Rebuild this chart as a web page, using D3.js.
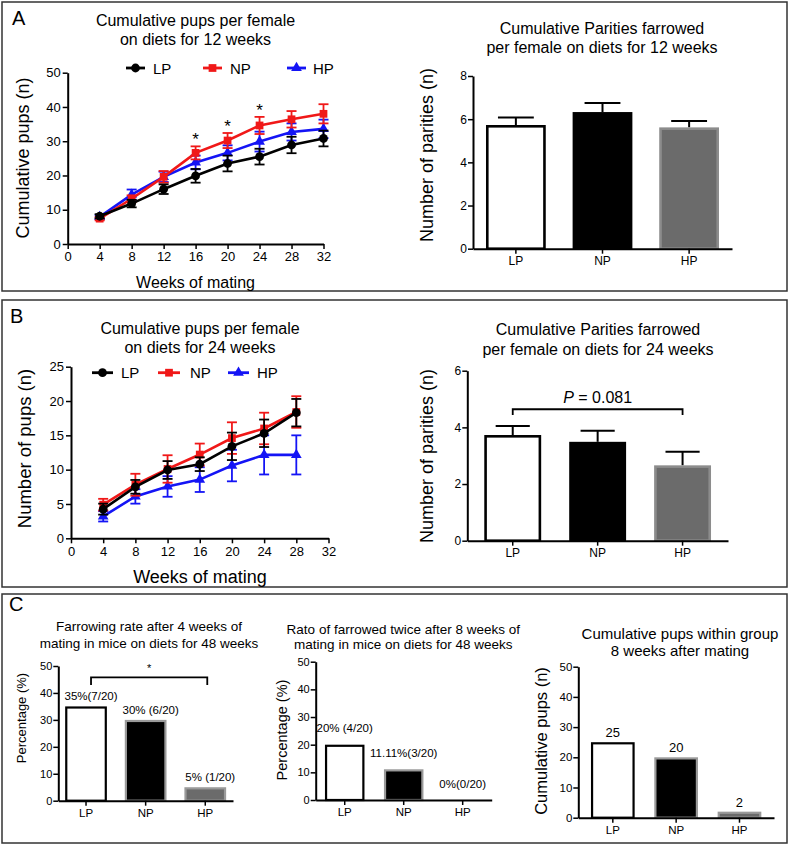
<!DOCTYPE html>
<html><head><meta charset="utf-8">
<script src="https://cdn.jsdelivr.net/npm/d3@7/dist/d3.min.js"></script>
<style>body{margin:0;background:#fff}</style>
</head><body>
<svg id="c" width="790" height="846"></svg>
<script>
// ---------- DATA ----------
const groups = ["LP", "NP", "HP"];
const weekTicks = [0, 4, 8, 12, 16, 20, 24, 28, 32];

// Panel A (12 weeks on diet)
const weeksA = [4, 8, 12, 16, 20, 24, 28, 32];
const lpA    = [8.1, 11.8, 16.0, 19.9, 23.5, 25.5, 28.9, 30.8];
const lpAErr = [0.6, 1.1, 1.4, 2.0, 2.3, 2.3, 2.4, 2.3];
const npA    = [7.4, 13.2, 19.6, 26.6, 30.2, 34.6, 36.4, 38.0];
const npAErr = [0.5, 1.0, 1.7, 1.9, 2.2, 2.5, 2.4, 2.8];
const hpA    = [7.9, 14.4, 19.6, 23.8, 26.6, 29.9, 32.7, 33.6];
const hpAErr = [0.5, 1.5, 1.5, 2.0, 2.2, 2.9, 2.5, 2.7];
const sigWeeksA = [16, 20, 24];
const paritiesA    = [5.73, 6.33, 5.62];
const paritiesAErr = [0.35, 0.42, 0.29];

// Panel B (24 weeks on diet)
const weeksB = [4, 8, 12, 16, 20, 24, 28];
const lpB    = [4.25, 7.5, 9.95, 10.8, 13.4, 15.3, 18.3];
const lpBErr = [0.8, 1.0, 1.3, 1.0, 2.0, 2.0, 2.0];
const npB    = [4.9, 7.8, 10.1, 12.2, 14.6, 16.0, 18.4];
const npBErr = [0.85, 1.6, 2.0, 1.6, 2.3, 2.3, 2.3];
const hpB    = [3.2, 6.1, 7.55, 8.55, 10.6, 12.15, 12.15];
const hpBErr = [0.75, 1.05, 1.5, 1.8, 2.3, 2.85, 2.85];
const paritiesB    = [3.73, 3.49, 2.66];
const paritiesBErr = [0.32, 0.39, 0.48];
const pValueB = "0.081";

// Panel C (48 weeks on diet)
const farrowRate   = [35, 30, 5];
const farrowLabels = ["35%(7/20)", "30% (6/20)", "5% (1/20)"];
const twiceRate    = [20, 11.11, 0];
const twiceLabels  = ["20% (4/20)", "11.11%(3/20)", "0%(0/20)"];
const cumPups      = [25, 20, 2];
const cumLabels    = ["25", "20", "2"];

// ---------- DRAWING ----------
const FONT = '"Liberation Sans", Arial, Helvetica, sans-serif';
const svg = d3.select("#c").attr("font-family", FONT);
const RED = "#f01818", BLUE = "#1414f5";
const barFill = ["#ffffff", "#000000", "#6b6b6b"];
const barStroke = ["#000000", "#000000", "#8c8c8c"];
const intFmt = d3.format("d");

// panel frames
[[2, 2, 785, 289], [2, 300, 785, 287], [2, 594, 785, 249]].forEach(r => {
  svg.append("rect").attr("x", r[0]).attr("y", r[1]).attr("width", r[2]).attr("height", r[3])
    .attr("fill", "none").attr("stroke", "#333").attr("stroke-width", 1.5);
});
[["A", 12, 25], ["B", 10, 323], ["C", 9, 611]].forEach(p => {
  svg.append("text").attr("x", p[1]).attr("y", p[2]).attr("font-size", 20).text(p[0]);
});

function styleAxis(g, fs) {
  g.attr("font-family", FONT);
  g.select(".domain").attr("stroke-width", 2).attr("stroke", "#000");
  g.selectAll(".tick line").attr("stroke-width", 1.5).attr("stroke", "#000");
  g.selectAll(".tick text").attr("font-size", fs).attr("fill", "#000");
}
function title(lines, cx, ys, fs) {
  lines.forEach((t, i) => svg.append("text").attr("x", cx).attr("y", ys[i])
    .attr("text-anchor", "middle").attr("dominant-baseline", "central").attr("font-size", fs).text(t));
}
function yLabel(t, cx, cy, fs) {
  svg.append("text").attr("transform", `translate(${cx},${cy}) rotate(-90)`)
    .attr("text-anchor", "middle").attr("dominant-baseline", "central").attr("font-size", fs).text(t);
}
function marker(g, type, x, y, color) {
  if (type === "circle") g.append("circle").attr("cx", x).attr("cy", y).attr("r", 4.4).attr("fill", color);
  else {
    const sym = type === "square" ? d3.symbolSquare : d3.symbolTriangle;
    const size = type === "square" ? 60 : 50;
    g.append("path").attr("d", d3.symbol(sym, size)()).attr("transform", `translate(${x},${y})`).attr("fill", color);
  }
}

function lineChart(c) {
  const x = d3.scaleLinear().domain([0, 32]).range([c.x0, c.x1]);
  const y = d3.scaleLinear().domain([0, c.yMax]).range([c.y0, c.y1]);
  const gx = svg.append("g").attr("transform", `translate(0,${c.y0})`)
    .call(d3.axisBottom(x).tickValues(weekTicks).tickFormat(intFmt).tickSize(5).tickPadding(3).tickSizeOuter(0));
  styleAxis(gx, 13);
  const gy = svg.append("g").attr("transform", `translate(${c.x0},0)`)
    .call(d3.axisLeft(y).tickValues(c.yTicks).tickFormat(intFmt).tickSize(5).tickPadding(2).tickSizeOuter(0));
  styleAxis(gy, 13);
  const line = d3.line().x(d => x(d[0])).y(d => y(d[1]));
  c.series.forEach(s => {
    const g = svg.append("g");
    const pts = c.weeks.map((w, i) => [w, s.vals[i], s.errs[i]]);
    pts.forEach(p => {
      const xx = x(p[0]);
      g.append("line").attr("x1", xx).attr("x2", xx).attr("y1", y(p[1] - p[2])).attr("y2", y(p[1] + p[2]))
        .attr("stroke", s.color).attr("stroke-width", 1.8);
      [p[1] - p[2], p[1] + p[2]].forEach(v => g.append("line").attr("x1", xx - 5).attr("x2", xx + 5)
        .attr("y1", y(v)).attr("y2", y(v)).attr("stroke", s.color).attr("stroke-width", 1.8));
    });
    g.append("path").datum(pts).attr("d", line).attr("fill", "none").attr("stroke", s.color).attr("stroke-width", 2.6);
    pts.forEach(p => marker(g, s.symbol, x(p[0]), y(p[1]), s.color));
  });
  // legend
  c.series.slice().reverse().forEach((s, i) => {
    const L = c.legend[i];
    svg.append("line").attr("x1", L[0]).attr("x2", L[1]).attr("y1", c.legendY).attr("y2", c.legendY)
      .attr("stroke", s.color).attr("stroke-width", 2.8);
    marker(svg, s.symbol, (L[0] + L[1]) / 2, c.legendY, s.color);
    svg.append("text").attr("x", L[2]).attr("y", c.legendY).attr("dominant-baseline", "central")
      .attr("font-size", 15).text(s.name);
  });
  return { x, y };
}

function barChart(c) {
  const x = d3.scaleBand().domain(groups).range([c.x0, c.x1]).paddingInner(c.pi).paddingOuter(c.po);
  const y = d3.scaleLinear().domain([0, c.yMax]).range([c.y0, c.y1]);
  const bw = x.bandwidth();
  groups.forEach((gname, i) => {
    const v = c.vals[i];
    if (c.errs) {
      const cx = x(gname) + bw / 2;
      svg.append("line").attr("x1", cx).attr("x2", cx).attr("y1", y(v)).attr("y2", y(v + c.errs[i]))
        .attr("stroke", "#000").attr("stroke-width", 2);
      svg.append("line").attr("x1", cx - bw * 0.3).attr("x2", cx + bw * 0.3)
        .attr("y1", y(v + c.errs[i])).attr("y2", y(v + c.errs[i])).attr("stroke", "#000").attr("stroke-width", 2);
    }
    if (v > 0) {
      const sw = c.sw || 2.4;
      svg.append("rect").attr("x", x(gname) + sw / 2).attr("y", y(v) + sw / 2)
        .attr("width", bw - sw).attr("height", Math.max(0, y(0) - y(v) - sw / 2))
        .attr("fill", barFill[i]).attr("stroke", (c.strokes || barStroke)[i]).attr("stroke-width", sw);
    }
  });
  const gx = svg.append("g").attr("transform", `translate(0,${c.y0})`)
    .call(d3.axisBottom(x).tickSize(5).tickPadding(3).tickSizeOuter(0));
  styleAxis(gx, c.xfs || 12);
  const gy = svg.append("g").attr("transform", `translate(${c.x0},0)`)
    .call(d3.axisLeft(y).tickValues(c.yTicks).tickFormat(intFmt).tickSize(5).tickPadding(1).tickSizeOuter(0));
  styleAxis(gy, c.yfs || 12);
  if (c.labels) {
    groups.forEach((gname, i) => {
      svg.append("text").attr("x", x(gname) + bw / 2 + (c.lblDx || 0)).attr("y", y(c.vals[i]) - c.lblOff)
        .attr("text-anchor", "middle").attr("dominant-baseline", "central").attr("font-size", c.lfs).text(c.labels[i]);
    });
  }
  return { x, y, bw };
}

// ----- Panel A left -----
const seriesA = [
  { name: "HP", vals: hpA, errs: hpAErr, color: BLUE, symbol: "triangle" },
  { name: "NP", vals: npA, errs: npAErr, color: RED, symbol: "square" },
  { name: "LP", vals: lpA, errs: lpAErr, color: "#000", symbol: "circle" }
];
const aL = lineChart({ x0: 67.7, x1: 323.5, y0: 244, y1: 72.7, yMax: 50, yTicks: [0, 10, 20, 30, 40, 50],
  weeks: weeksA, series: seriesA, legendY: 68,
  legend: [[126, 145, 153], [203, 222, 230], [287, 306, 313]] });
sigWeeksA.forEach(w => {
  const i = weeksA.indexOf(w);
  svg.append("text").attr("x", aL.x(w)).attr("y", aL.y(npA[i] + npAErr[i]) - 1)
    .attr("text-anchor", "middle").attr("font-size", 17).text("*");
});
title(["Cumulative pups per female", "on diets for 12 weeks"], 195.5, [20, 39], 16);
yLabel("Cumulative pups (n)", 23, 158, 18);
svg.append("text").attr("x", 195.5).attr("y", 282).attr("text-anchor", "middle")
  .attr("dominant-baseline", "central").attr("font-size", 16).text("Weeks of mating");

// ----- Panel A right -----
barChart({ x0: 473, x1: 732, y0: 248.7, y1: 76, yMax: 8, yTicks: [0, 2, 4, 6, 8],
  vals: paritiesA, errs: paritiesAErr, pi: 0.31, po: 0.15, sw: 2.6 });
title(["Cumulative Parities farrowed", "per female on diets for 12 weeks"], 602, [28, 47], 16);
yLabel("Number of parities (n)", 426.5, 155, 18);

// ----- Panel B left -----
const seriesB = [
  { name: "HP", vals: hpB, errs: hpBErr, color: BLUE, symbol: "triangle" },
  { name: "NP", vals: npB, errs: npBErr, color: RED, symbol: "square" },
  { name: "LP", vals: lpB, errs: lpBErr, color: "#000", symbol: "circle" }
];
lineChart({ x0: 71, x1: 328.5, y0: 538.3, y1: 366.7, yMax: 25, yTicks: [0, 5, 10, 15, 20, 25],
  weeks: weeksB, series: seriesB, legendY: 372.7,
  legend: [[92, 113, 121], [158, 180, 190], [228, 249, 257]] });
title(["Cumulative pups per female", "on diets for 24 weeks"], 200, [328, 347], 16);
yLabel("Number of pups (n)", 24.5, 448.5, 18.5);
svg.append("text").attr("x", 200).attr("y", 576.7).attr("text-anchor", "middle")
  .attr("dominant-baseline", "central").attr("font-size", 18).text("Weeks of mating");

// ----- Panel B right -----
const bR = barChart({ x0: 467.3, x1: 728, y0: 540.7, y1: 370.7, yMax: 6, yTicks: [0, 2, 4, 6],
  vals: paritiesB, errs: paritiesBErr, pi: 0.33, po: 0.2, sw: 2.6 });
{
  const xa = bR.x("LP") + bR.bw / 2, xb = bR.x("HP") + bR.bw / 2;
  const yb = bR.y(4.64), yl = bR.y(4.44);
  svg.append("path").attr("d", `M${xa},${yl}V${yb}H${xb}V${yl}`).attr("fill", "none")
    .attr("stroke", "#000").attr("stroke-width", 1.8);
  const t = svg.append("text").attr("x", (xa + xb) / 2).attr("y", yb - 12.5).attr("text-anchor", "middle")
    .attr("dominant-baseline", "central").attr("font-size", 16);
  t.append("tspan").attr("font-style", "italic").text("P");
  t.append("tspan").text(" = " + pValueB);
}
title(["Cumulative Parities farrowed", "per female on diets for 24 weeks"], 598, [329, 349], 16);
yLabel("Number of parities (n)", 426.5, 456, 18);

// ----- Panel C left -----
const cGray = ["#000000", "#9a9a9a", "#9a9a9a"];
const cL = barChart({ x0: 58.3, x1: 233, y0: 800.7, y1: 666, yMax: 50, yTicks: [0, 10, 20, 30, 40, 50],
  vals: farrowRate, labels: farrowLabels, lblOff: 10, lblDx: 5, lfs: 11.5, pi: 0.3, po: 0.115,
  sw: 2.2, strokes: cGray, xfs: 11.5, yfs: 11 });
{
  const xa = cL.x("LP") + cL.bw / 2 + 5, xb = cL.x("HP") + cL.bw / 2 + 2;
  const yb = 677.3, yl = 685;
  svg.append("path").attr("d", `M${xa},${yl}V${yb}H${xb}V${yl}`).attr("fill", "none")
    .attr("stroke", "#000").attr("stroke-width", 1.8);
  svg.append("text").attr("x", (xa + xb) / 2).attr("y", 672).attr("text-anchor", "middle")
    .attr("font-size", 11).text("*");
}
title(["Farrowing rate after 4 weeks of", "mating in mice on diets for 48 weeks"], 149, [626.7, 643.3], 13.5);
yLabel("Percentage  (%)", 21.7, 718, 13);

// ----- Panel C middle -----
barChart({ x0: 315.7, x1: 491.7, y0: 800, y1: 661.7, yMax: 50, yTicks: [0, 10, 20, 30, 40, 50],
  vals: twiceRate, labels: twiceLabels, lblOff: 16.5, lfs: 11.5, pi: 0.33, po: 0.157,
  sw: 2.2, strokes: cGray, xfs: 11.5, yfs: 11 });
title(["Rato of farrowed twice after 8 weeks of", "mating in mice on diets for 48 weeks"], 403.3, [629.3, 644.3], 13.5);
yLabel("Percentage  (%)", 281.7, 730, 14.5);

// ----- Panel C right -----
barChart({ x0: 578.3, x1: 774, y0: 817.7, y1: 666.7, yMax: 50, yTicks: [0, 10, 20, 30, 40, 50],
  vals: cumPups, labels: cumLabels, lblOff: 9.5, lfs: 13, pi: 0.31, po: 0.2,
  sw: 2.2, strokes: cGray, xfs: 11.5, yfs: 11.5 });
title(["Cumulative pups within group", "8 weeks after mating"], 680, [633.3, 650], 15);
yLabel("Cumulative pups (n)", 540.7, 741, 16.5);
</script>
</body></html>
